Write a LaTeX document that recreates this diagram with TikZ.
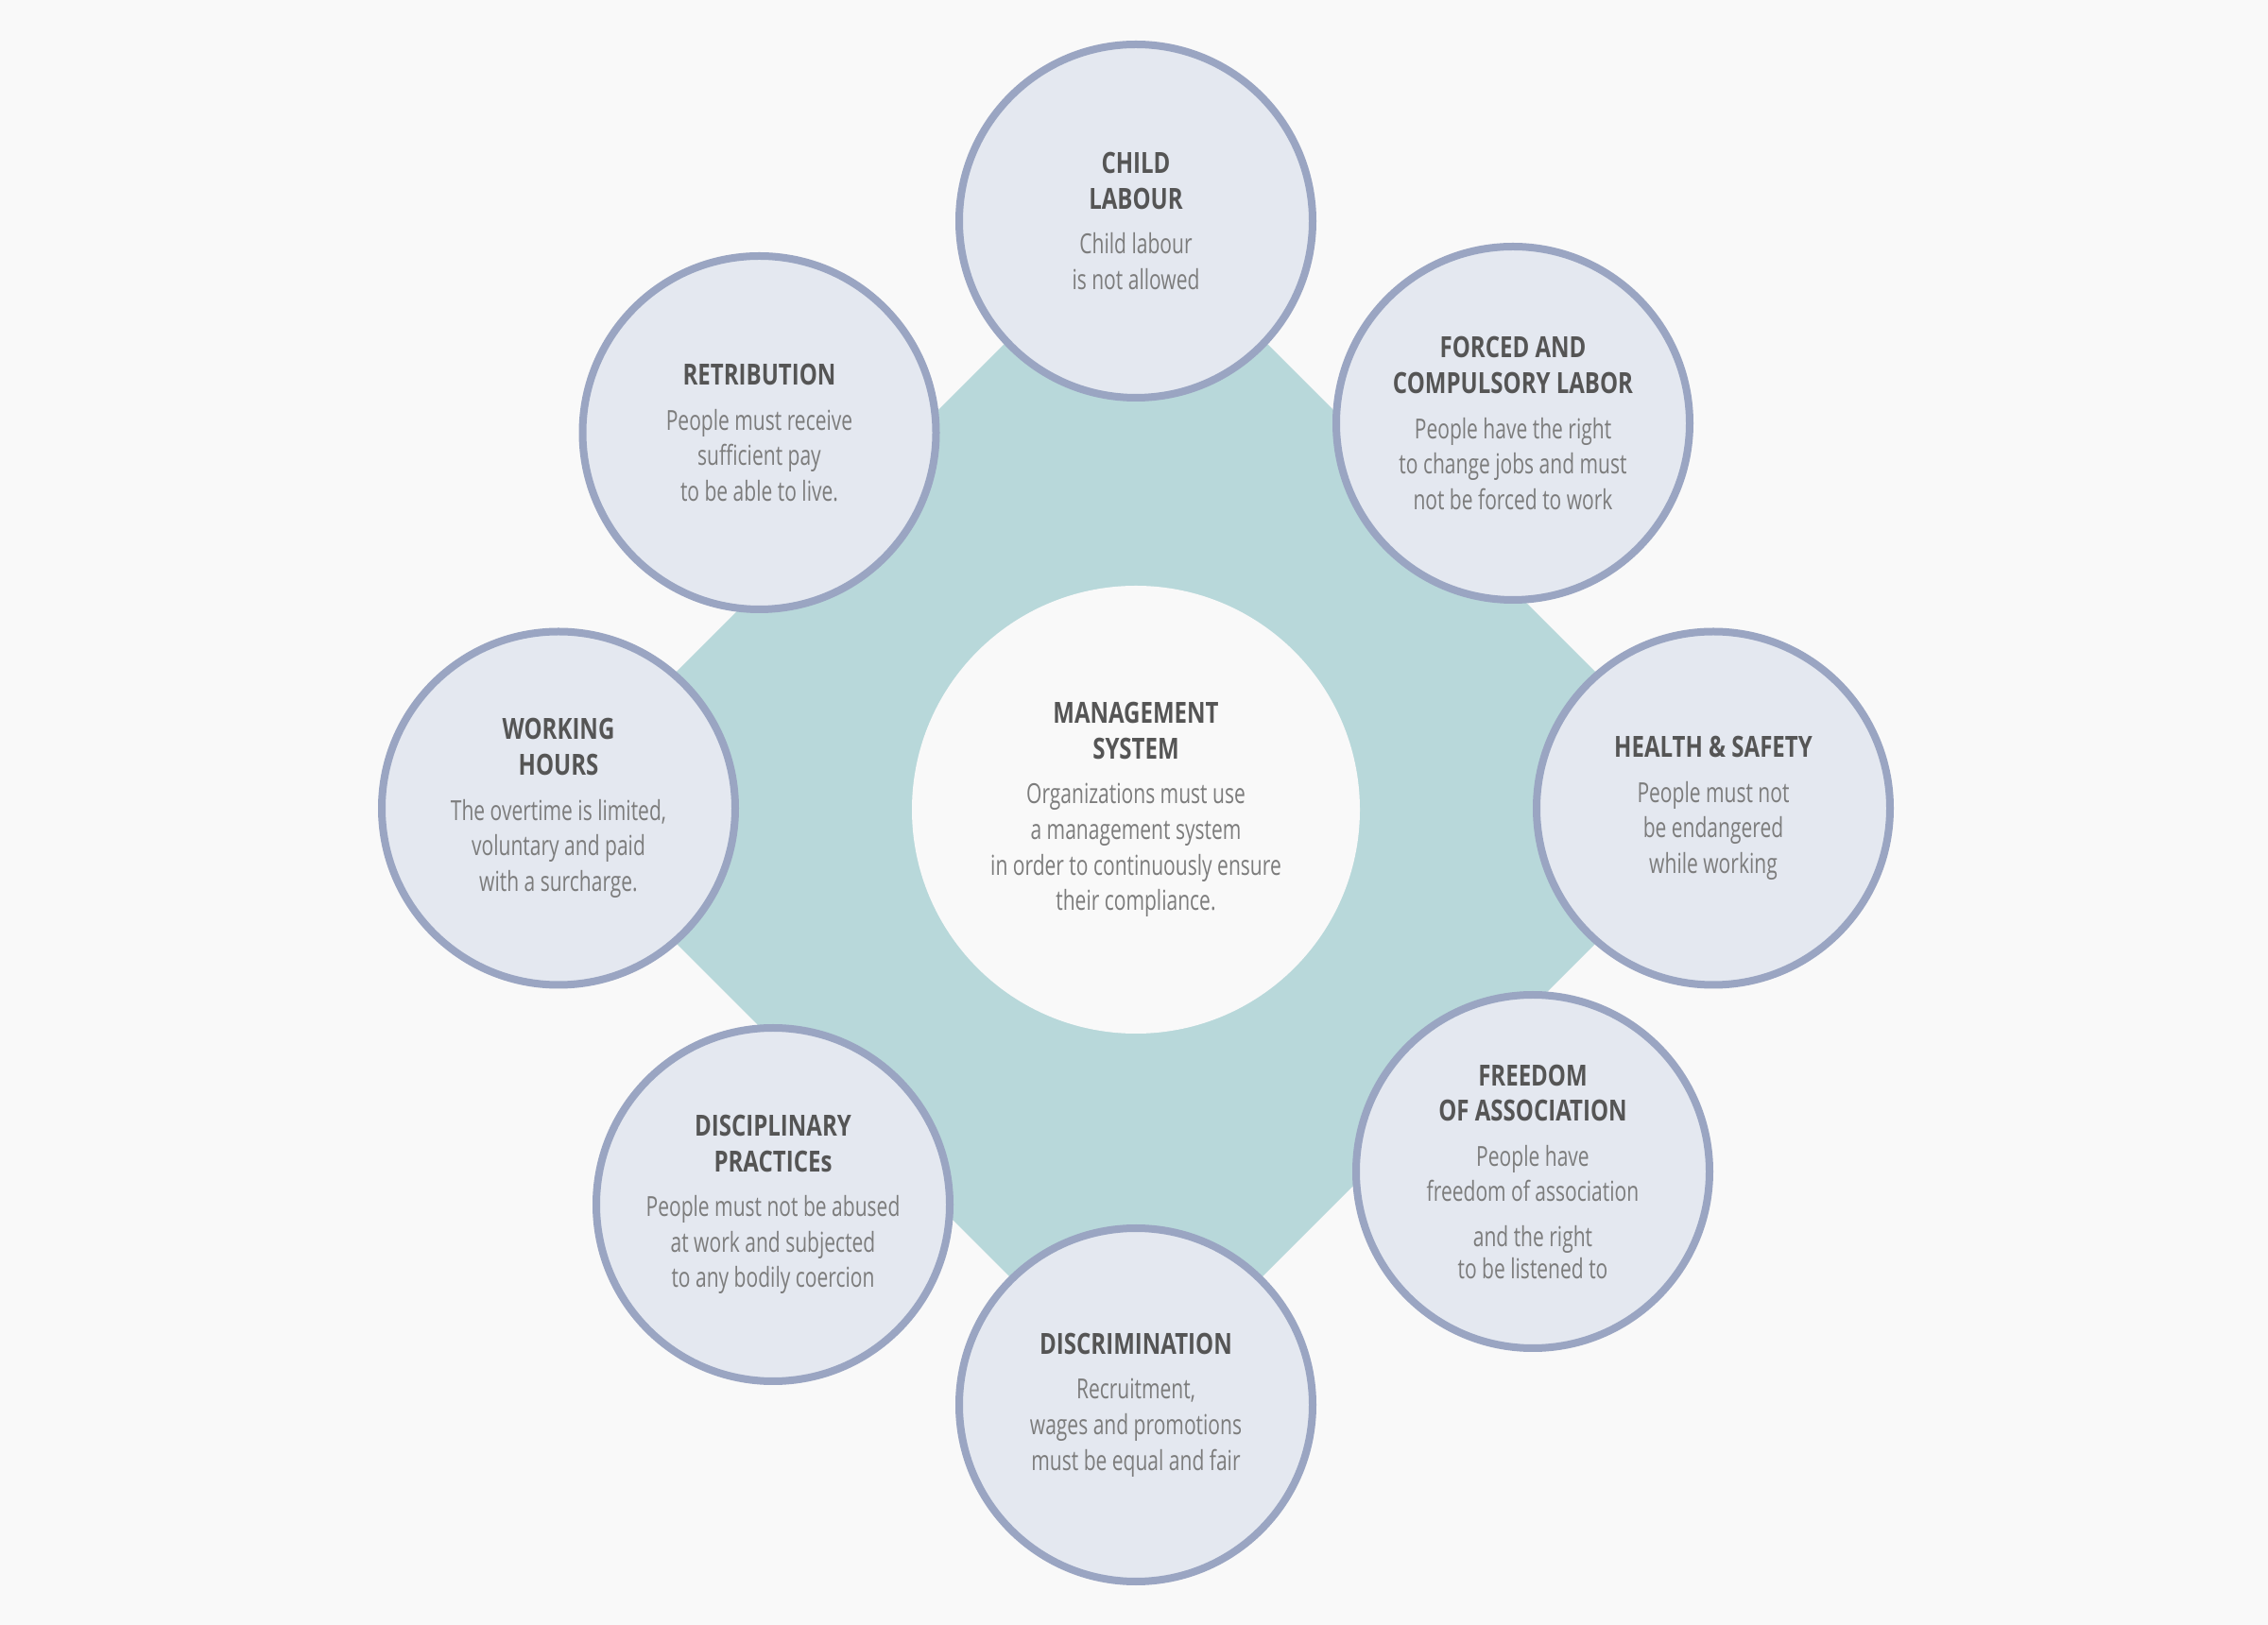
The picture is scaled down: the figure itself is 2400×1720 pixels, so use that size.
\documentclass[tikz,border=0pt]{standalone}
\usepackage{fontspec}
\newfontfamily\bodyfam[FakeStretch=0.72]{Open Sans}
\newfontfamily\titlefam[FakeStretch=0.78]{Open Sans}
\definecolor{bgcol}{HTML}{F9F9F9}
\definecolor{diamcol}{HTML}{B8D8DA}
\definecolor{circfill}{HTML}{E4E8F0}
\definecolor{ringcol}{HTML}{9AA5C2}
\definecolor{titlecol}{HTML}{555555}
\definecolor{bodycol}{HTML}{7C7C7C}
\newcommand{\Ttl}[1]{{\titlefam\bfseries\fontsize{7.7}{9.4}\selectfont\color{titlecol}#1}}
\newcommand{\Bdy}[1]{{\bodyfam\fontsize{7.3}{9.4}\selectfont\color{bodycol}#1}}
\begin{document}
\begin{tikzpicture}[x=0.25pt,y=-0.25pt,
  circ/.style={circle, draw=ringcol, line width=2pt, fill=circfill,
    minimum size=93.5pt, inner sep=0pt, align=center,
    font=\bodyfam\fontsize{7.3}{9.4}\selectfont},
  hubcirc/.style={circle, fill=bgcol, minimum size=118.5pt, inner sep=0pt,
    align=center, font=\bodyfam\fontsize{7.3}{9.4}\selectfont}]
\useasboundingbox (0,0) rectangle (2400,1720);
\fill[bgcol] (0,0) rectangle (2400,1720);
\fill[diamcol] (1202,225) -- (1832,855) -- (1202,1485) -- (572,855) -- cycle;
\node[hubcirc] (hub) at (1202,857) {\Ttl{MANAGEMENT}\\\Ttl{SYSTEM}\\[2.5pt]\Bdy{Organizations must use}\\\Bdy{a management system}\\\Bdy{in order to continuously ensure}\\\Bdy{their compliance.}};
\node[circ] (child) at (1202,234) {\Ttl{CHILD}\\\Ttl{LABOUR}\\[2.5pt]\Bdy{Child labour}\\\Bdy{is not allowed}};
\node[circ] (forced) at (1601,448) {\Ttl{FORCED AND}\\\Ttl{COMPULSORY LABOR}\\[2.5pt]\Bdy{People have the right}\\\Bdy{to change jobs and must}\\\Bdy{not be forced to work}};
\node[circ] (health) at (1813,855.5) {\Ttl{HEALTH \& SAFETY}\\[2.5pt]\Bdy{People must not}\\\Bdy{be endangered}\\\Bdy{while working}};
\node[circ] (freedom) at (1622,1240) {\Ttl{FREEDOM}\\\Ttl{OF ASSOCIATION}\\[2.5pt]\Bdy{People have}\\\Bdy{freedom of association}\\[2.5pt]\Bdy{and the right}\\[-1pt]\Bdy{to be listened to}};
\node[circ] (discrim) at (1202,1487) {\Ttl{DISCRIMINATION}\\[2.5pt]\Bdy{Recruitment,}\\\Bdy{wages and promotions}\\\Bdy{must be equal and fair}};
\node[circ] (discipl) at (818,1275) {\Ttl{DISCIPLINARY}\\\Ttl{PRACTICEs}\\[2.5pt]\Bdy{People must not be abused}\\\Bdy{at work and subjected}\\\Bdy{to any bodily coercion}};
\node[circ] (working) at (591,855.5) {\Ttl{WORKING}\\\Ttl{HOURS}\\[2.5pt]\Bdy{The overtime is limited,}\\\Bdy{voluntary and paid}\\\Bdy{with a surcharge.}};
\node[circ] (retrib) at (803.5,458) {\Ttl{RETRIBUTION}\\[2.5pt]\Bdy{People must receive}\\\Bdy{sufficient pay}\\\Bdy{to be able to live.}};
\end{tikzpicture}
\end{document}
